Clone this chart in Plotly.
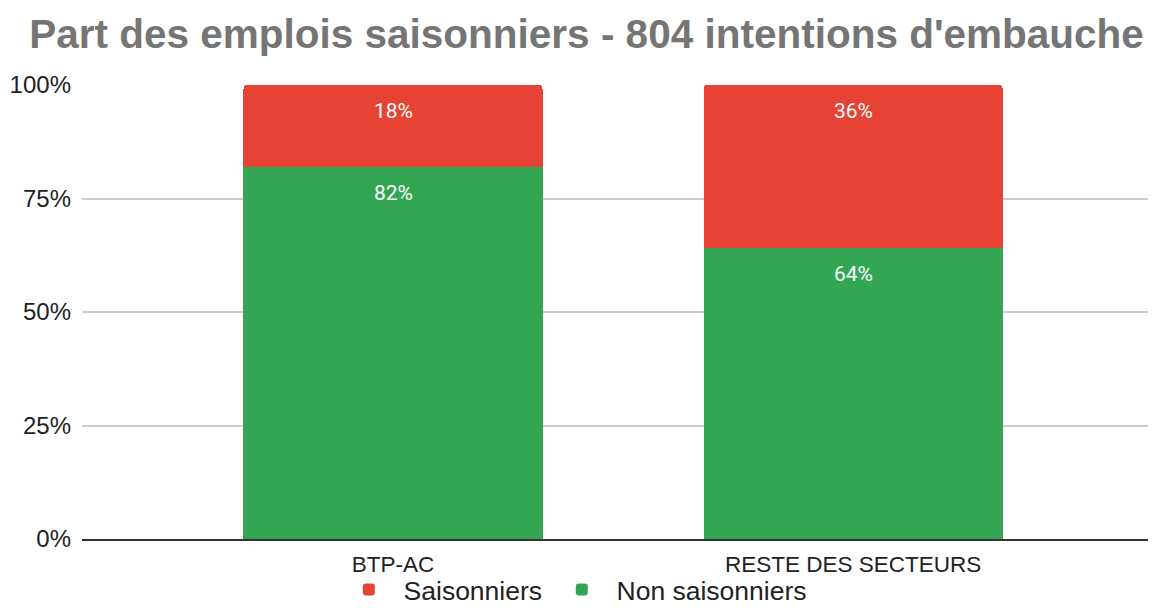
import plotly.graph_objects as go

categories = ["BTP-AC", "RESTE DES SECTEURS"]
non_saisonniers = [82, 64]
saisonniers = [18, 36]
tick_vals = [0, 25, 50, 75, 100]
tick_text = ["0%", "25%", "50%", "75%", "100%"]

RED = "#E64335"
GREEN = "#33A654"
NB = "\u00a0"

fig = go.Figure()
fig.add_trace(go.Bar(x=categories, y=non_saisonniers, name=NB * 2 + "Non saisonniers",
                     marker=dict(color=GREEN, line=dict(width=0)), hoverinfo="skip"))
fig.add_trace(go.Bar(x=categories, y=saisonniers, name=NB * 2 + "Saisonniers" + NB * 2,
                     marker=dict(color=RED, line=dict(width=0)), hoverinfo="skip"))

# data labels near top of each segment
for i, c in enumerate(categories):
    tops = [non_saisonniers[i], non_saisonniers[i] + saisonniers[i]]
    vals = [non_saisonniers[i], saisonniers[i]]
    for top, v in zip(tops, vals):
        fig.add_annotation(x=c, y=top, text=f"{v}%", showarrow=False,
                           yanchor="middle", yshift=-26,
                           font=dict(family="Roboto", size=21, color="white"))

fig.update_layout(
    width=1153, height=608,
    barmode="stack", bargap=0.35, barcornerradius=4,
    paper_bgcolor="white", plot_bgcolor="white",
    margin=dict(l=82, r=5, t=85, b=69, autoexpand=False),
    title=dict(text="<b>Part des emplois saisonniers - 804 intentions d'embauche</b>",
               x=0.5087, xanchor="center", y=0.944, yanchor="middle",
               font=dict(family="Liberation Sans", size=40.5, color="#757575")),
    font=dict(family="Liberation Sans", color="#222222"),
    legend=dict(orientation="h", x=0.4675, xanchor="center", y=-0.112, yanchor="middle",
                bgcolor="rgba(0,0,0,0)",
                traceorder="reversed", font=dict(size=26.5, color="#222222"),
                itemwidth=30, itemsizing="constant"),
    showlegend=True,
)
fig.update_xaxes(range=[-0.676, 1.641], showgrid=False, showline=True,
                 linecolor="#333333", linewidth=1.5, ticks="", automargin=False,
                 ticklabelstandoff=4,
                 tickfont=dict(family="Liberation Sans", size=22.5, color="#222222"))
fig.update_yaxes(range=[0, 100], tickvals=tick_vals, ticktext=tick_text,
                 showgrid=True, gridcolor="#CCCCCC", gridwidth=1.5, zeroline=False,
                 ticks="", ticklabelstandoff=10, automargin=False,
                 tickfont=dict(family="Liberation Sans", size=24, color="#222222"))

fig.write_html("out.html", config={"displayModeBar": False},
               post_script="document.body.style.margin='0';document.body.style.overflow='hidden';")
